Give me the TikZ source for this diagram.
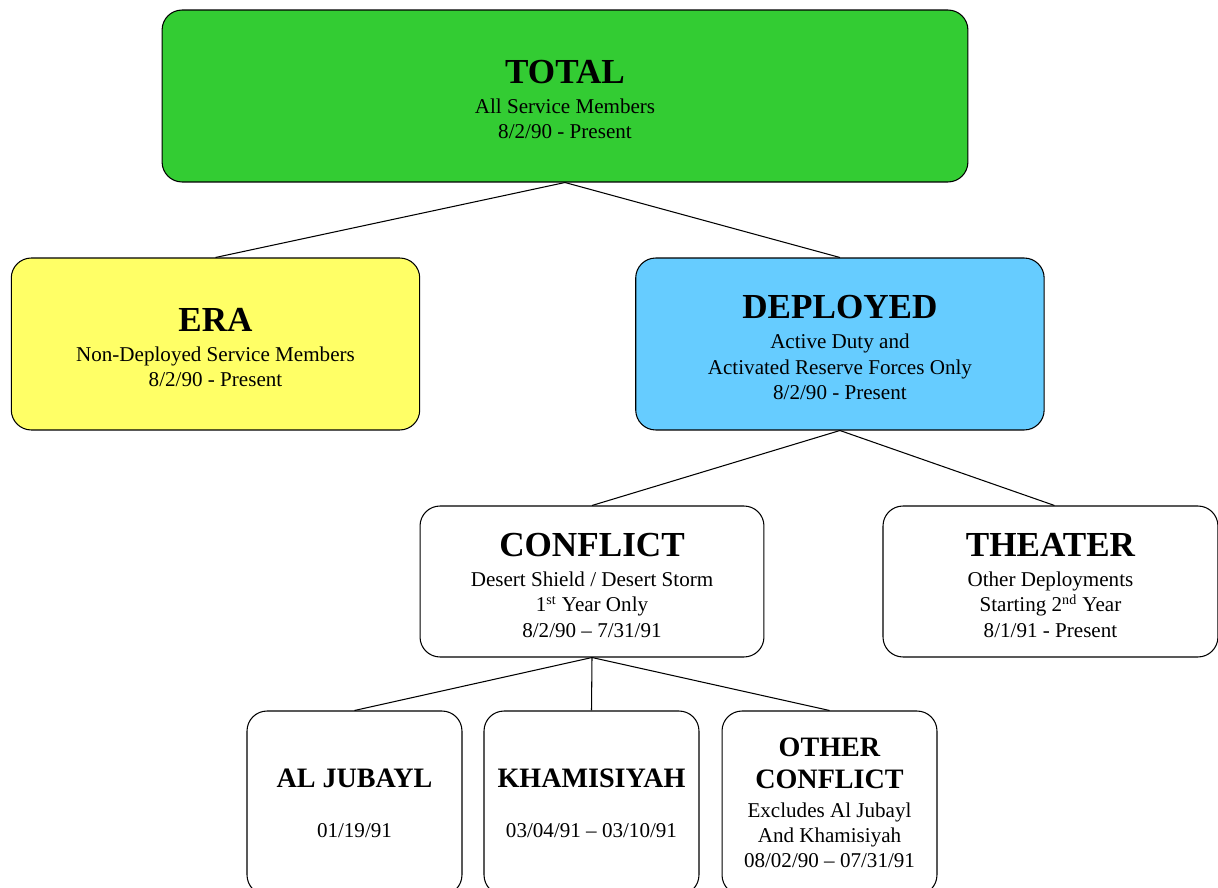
\documentclass[tikz,border=0pt]{standalone}
\usepackage{fontspec}
\setmainfont{Liberation Serif}
\usetikzlibrary{positioning}

\definecolor{grn}{HTML}{33CC33}
\definecolor{yel}{HTML}{FFFF66}
\definecolor{blu}{HTML}{66CCFF}

\newcommand{\bigttl}[1]{{\fontsize{20}{24}\selectfont\bfseries\rule{0pt}{17.5pt}#1}}
\newcommand{\smallttl}[1]{{\fontsize{16}{19}\selectfont\bfseries #1}}

\begin{document}
\begin{tikzpicture}[
  x=0.02cm, y=-0.02cm,
  every node/.style={draw,rounded corners=0.4cm,align=center,inner sep=0pt,
    line width=0.6pt,font=\fontsize{12}{14.5}\selectfont},
  topbox/.style={minimum width=8.17cm,minimum height=3.44cm},
  midbox/.style={minimum width=6.8cm,minimum height=3.02cm},
  leafbox/.style={minimum width=4.3cm,minimum height=3.68cm},
  link/.style={line width=0.6pt}
]
\useasboundingbox (0,0) rectangle (1218,888);

\node (total) [topbox, fill=grn, minimum width=16.12cm] at (565,96)
  {\bigttl{TOTAL}\\[2.5pt] All Service Members\\ 8/2/90 - Present};

% second row
\node (era) [topbox, fill=yel] at (215.5,344)
  {\bigttl{ERA}\\[2.5pt] Non-Deployed Service Members\\ 8/2/90 - Present};
\node (dep) [topbox, fill=blu, right=4.3cm of era]
  {\bigttl{DEPLOYED}\\[2.5pt] Active Duty and\\ Activated Reserve Forces Only\\ 8/2/90 - Present};

% third row
\node (conf) [midbox, minimum width=6.88cm] at (592,581.5)
  {\bigttl{CONFLICT}\\[2.5pt] Desert Shield / Desert Storm\\
   1\textsuperscript{st} Year Only\\ 8/2/90 -- 7/31/91};
\node (theat) [midbox, minimum width=6.7cm, right=2.36cm of conf]
  {\bigttl{THEATER}\\[2.5pt] Other Deployments\\
   Starting 2\textsuperscript{nd} Year\\ 8/1/91 - Present};

% bottom row (runs off the page)
\node (kham) [leafbox] at (591.5,803)
  {\smallttl{KHAMISIYAH}\\[14pt] 03/04/91 -- 03/10/91};
\node (jub) [leafbox, left=0.42cm of kham]
  {\smallttl{AL JUBAYL}\\[14pt] 01/19/91};
\node (oth) [leafbox, right=0.44cm of kham]
  {\smallttl{OTHER}\\[4pt] \smallttl{CONFLICT}\\[1.5pt] Excludes Al Jubayl\\
   And Khamisiyah\\ 08/02/90 -- 07/31/91};

\draw[link] (total.south) -- (era.north);
\draw[link] (total.south) -- (dep.north);
\draw[link] (dep.south) -- (conf.north);
\draw[link] (dep.south) -- ([xshift=0.08cm]theat.north);
\draw[link] (conf.south) -- (jub.north);
\draw[link] (conf.south) -- (kham.north);
\draw[link] (conf.south) -- (oth.north);
\end{tikzpicture}
\end{document}
